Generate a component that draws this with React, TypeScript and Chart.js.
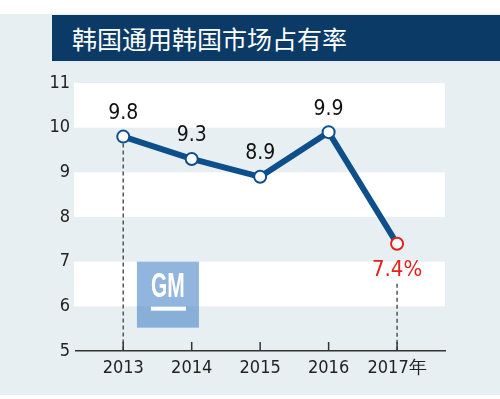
import React, { useEffect, useRef } from "react";
import { Chart, registerables } from "chart.js";

Chart.register(...registerables);

const title = "韩国通用韩国市场占有率";
const years = [2013, 2014, 2015, 2016, 2017];
const shares = [9.8, 9.3, 8.9, 9.9, 7.4];
const pointLabels = ["9.8", "9.3", "8.9", "9.9", "7.4%"];
const yTicks = [5, 6, 7, 8, 9, 10, 11];
const whiteBands = [[10, 11], [8, 9], [6, 7]];

const NAVY = "#0b3a66";
const LINE = "#0d4f8b";
const RED = "#e3231b";
const BG = "#e8eff3";
const NARROW = "'Liberation Sans Narrow', 'DejaVu Sans Condensed', Arial, sans-serif";

const decor = {
  id: "decor",
  beforeDatasetsDraw(chart: any) {
    const { ctx, chartArea, scales } = chart;
    const y = scales.y;
    const x = scales.x;
    ctx.save();
    ctx.fillStyle = "#ffffff";
    whiteBands.forEach(([a, b]) => {
      const top = y.getPixelForValue(b);
      const bot = y.getPixelForValue(a);
      ctx.fillRect(chartArea.left - 2, top, chartArea.right - chartArea.left + 2, bot - top);
    });
    // dashed drop lines
    ctx.strokeStyle = "#555";
    ctx.lineWidth = 1.5;
    ctx.setLineDash([4, 3]);
    const x0 = x.getPixelForValue(years[0]);
    ctx.beginPath();
    ctx.moveTo(x0, y.getPixelForValue(shares[0]));
    ctx.lineTo(x0, y.getPixelForValue(5));
    ctx.stroke();
    const xl = x.getPixelForValue(years[4]);
    ctx.beginPath();
    ctx.moveTo(xl, y.getPixelForValue(shares[4]) + 40);
    ctx.lineTo(xl, y.getPixelForValue(5));
    ctx.stroke();
    ctx.setLineDash([]);
    // tick marks pointing up
    ctx.strokeStyle = "#333";
    ctx.lineWidth = 1.5;
    years.forEach((yr) => {
      const px = x.getPixelForValue(yr);
      ctx.beginPath();
      ctx.moveTo(px, chartArea.bottom);
      ctx.lineTo(px, chartArea.bottom - 9);
      ctx.stroke();
    });
    // GM logo
    const gx = x.getPixelForValue(2013.2);
    const gy = y.getPixelForValue(7.0);
    ctx.fillStyle = "rgba(72,132,196,0.6)";
    ctx.fillRect(gx, gy, 62, 66);
    ctx.fillStyle = "#ffffff";
    ctx.save();
    ctx.translate(gx + 31, gy + 26);
    ctx.scale(0.6, 1);
    ctx.font = "bold 35px 'Liberation Sans', Arial, sans-serif";
    ctx.textAlign = "center";
    ctx.textBaseline = "middle";
    ctx.fillText("GM", 0, 0);
    ctx.restore();
    ctx.fillRect(gx + 14, gy + 45, 35, 4);
    ctx.restore();
  },
  afterDatasetsDraw(chart: any) {
    const { ctx, scales } = chart;
    ctx.save();
    ctx.textAlign = "center";
    ctx.textBaseline = "middle";
    years.forEach((yr, i) => {
      const px = scales.x.getPixelForValue(yr);
      const py = scales.y.getPixelForValue(shares[i]);
      if (i === years.length - 1) {
        ctx.font = "22px " + NARROW;
        ctx.fillStyle = RED;
        ctx.fillText(pointLabels[i], px, py + 26);
      } else {
        ctx.font = "21px " + NARROW;
        ctx.fillStyle = "#111";
        ctx.fillText(pointLabels[i], px, py - 23);
      }
    });
    ctx.restore();
  },
};

export default function App() {
  const ref = useRef<HTMLCanvasElement>(null);
  useEffect(() => {
    const chart = new Chart(ref.current as HTMLCanvasElement, {
      type: "line",
      data: {
        datasets: [
          {
            data: years.map((yr, i) => ({ x: yr, y: shares[i] })),
            borderColor: LINE,
            borderWidth: 6,
            pointRadius: 6,
            pointBorderWidth: 2,
            pointBackgroundColor: "#ffffff",
            pointBorderColor: years.map((_, i) => (i === years.length - 1 ? RED : LINE)),
            tension: 0,
          },
        ],
      },
      options: {
        animation: false,
        responsive: false,
        events: [],
        layout: { padding: { top: 83, right: 55, bottom: 0, left: 0 } },
        plugins: { legend: { display: false }, tooltip: { enabled: false } },
        scales: {
          x: {
            type: "linear",
            min: 2012.31,
            max: 2017.7,
            afterFit: (s: any) => {
              s.height = 48;
            },
            afterBuildTicks: (s: any) => {
              s.ticks = years.map((v) => ({ value: v }));
            },
            grid: { display: false, drawTicks: false },
            border: { display: true, color: "#333", width: 1.5 },
            ticks: {
              padding: 7,
              color: "#222",
              font: { size: 18, family: NARROW },
              callback: (v: any) => (v === 2017 ? "2017年" : String(v)),
            },
          },
          y: {
            min: 5,
            max: 11,
            afterFit: (s: any) => {
              s.width = 76;
            },
            afterBuildTicks: (s: any) => {
              s.ticks = yTicks.map((v) => ({ value: v }));
            },
            grid: { display: false, drawTicks: false },
            border: { display: false },
            ticks: {
              padding: 6,
              color: "#222",
              font: { size: 18, family: NARROW },
            },
          },
        },
      },
      plugins: [decor],
    });
    return () => chart.destroy();
  }, []);

  return (
    <div style={{ position: "fixed", left: 0, top: 0, width: 500, height: 399, background: "#fff", overflow: "hidden" }}>
      <div style={{ position: "absolute", left: 0, top: 14, width: 500, height: 381, background: BG }} />
      <div
        style={{
          position: "absolute",
          left: 52,
          top: 15,
          width: 448,
          height: 46,
          background: NAVY,
          color: "#fff",
          fontFamily: "'Noto Sans CJK SC', sans-serif",
          fontSize: 25,
          lineHeight: "46px",
          paddingLeft: 20,
          boxSizing: "border-box",
          whiteSpace: "nowrap",
        }}
      >
        {title}
      </div>
      <canvas ref={ref} width={500} height={399} style={{ position: "absolute", left: 0, top: 0 }} />
    </div>
  );
}
